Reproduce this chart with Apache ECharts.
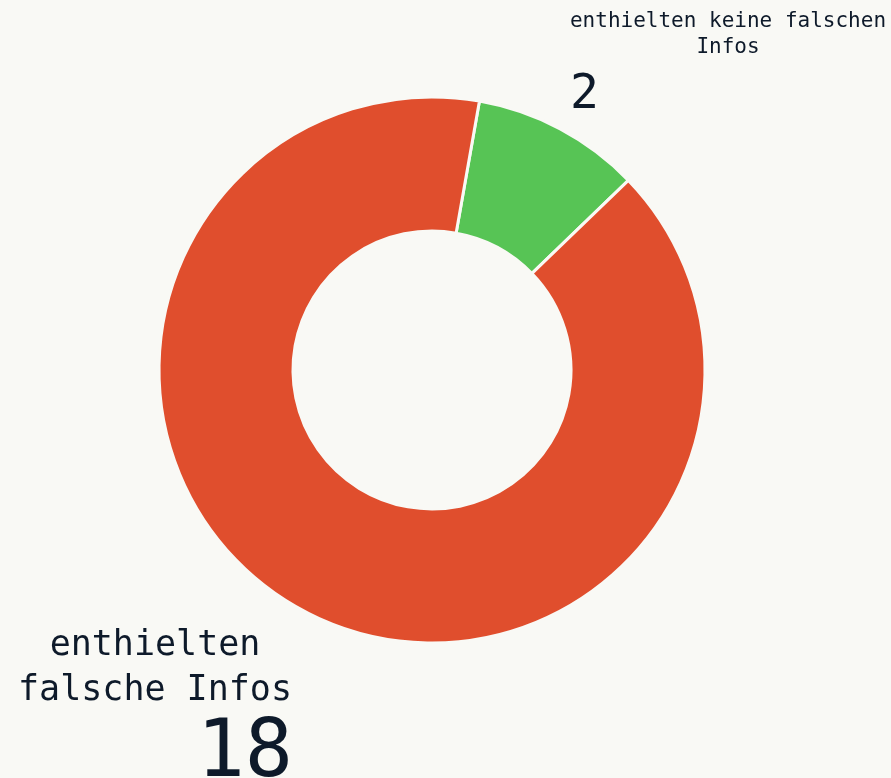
<!DOCTYPE html>
<html>
<head>
<meta charset="utf-8">
<script src="https://cdn.jsdelivr.net/npm/echarts@6/dist/echarts.min.js"></script>
<style>
  html, body { margin: 0; padding: 0; background: #f9f9f5; }
  #chart { width: 891px; height: 778px; }
</style>
</head>
<body>
<div id="chart"></div>
<script>
// Anzahl der Antworten
const categories = ['enthielten keine falschen\nInfos', 'enthielten\nfalsche Infos'];
const values = [2, 18];
const colors = ['#57c455', '#e04e2d'];

const chart = echarts.init(document.getElementById('chart'));

const FONT = 'DejaVu Sans Mono';
const TXT = '#0e1a2a';

// label blocks: [x, y, align, width]
const labelPos = [
  [570, 9, 'left', 316],
  [293, 623, 'right', 276]
];

const option = {
  backgroundColor: '#f9f9f5',
  animation: false,
  series: [
    {
      type: 'pie',
      center: [432, 370],
      radius: [139, 273],
      startAngle: 80,
      clockwise: true,
      silent: true,
      itemStyle: {
        borderColor: '#f9f9f5',
        borderWidth: 3
      },
      labelLine: { show: false },
      label: {
        show: true,
        overflow: 'none',
        fontFamily: FONT,
        color: TXT
      },
      labelLayout: function (params) {
        const p = labelPos[params.dataIndex];
        return { x: p[0], y: p[1], align: p[2], verticalAlign: 'top' };
      },
      data: categories.map((c, i) => ({
        name: c,
        value: values[i],
        itemStyle: { color: colors[i] },
        label: i === 0 ? {
          width: labelPos[i][3],
          formatter: '{n|{b}}\n{v|{c}}',
          rich: {
            n: { fontSize: 21, lineHeight: 26, align: 'center', fontFamily: FONT, color: TXT },
            v: { fontSize: 48, lineHeight: 70, align: 'left', fontFamily: FONT, color: TXT }
          }
        } : {
          width: labelPos[i][3],
          formatter: '{n|{b}}\n{v|{c}}',
          rich: {
            n: { fontSize: 35, lineHeight: 45, align: 'center', fontFamily: FONT, color: TXT },
            v: { fontSize: 80, lineHeight: 84, align: 'right', fontFamily: FONT, color: TXT }
          }
        }
      }))
    }
  ]
};

chart.setOption(option);
</script>
</body>
</html>
